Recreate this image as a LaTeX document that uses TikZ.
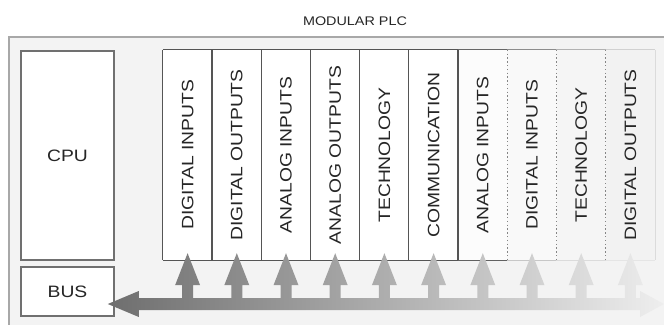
\documentclass[tikz,border=0pt]{standalone}
\usepackage{fontspec}
\setmainfont{Liberation Sans}
\usepackage{graphicx}
\usetikzlibrary{calc}
\definecolor{framebg}{HTML}{F3F3F3}
\definecolor{frameline}{HTML}{A8A8A8}
\definecolor{boxline}{HTML}{707070}
\definecolor{modline}{HTML}{555555}
\definecolor{txt}{HTML}{262626}
\definecolor{arrL}{HTML}{6E6E6E}
\definecolor{arrR}{HTML}{EEEEEE}
\tikzset{
  sbox/.style={draw=boxline, line width=1.6pt, fill=white, inner sep=0pt, text=txt,
    font=\fontsize{16.5}{18}\selectfont},
  modfill/.style={draw=none, inner sep=0pt, minimum width=49.2pt, minimum height=210pt},
  modlabel/.style={rotate=90, text=txt, inner sep=0pt, font=\fontsize{16.5}{18}\selectfont},
  sepline/.style={draw=modline, line width=1.2pt},
  dotline/.style={draw=black!48, line width=1.3pt, dash pattern=on 1.4pt off 2.4pt}
}
\begin{document}
\begin{tikzpicture}[x=1pt,y=-1pt]
\useasboundingbox[fill=white] (0,0) rectangle (664,324);
% title
\node[text=txt, inner sep=0pt, font=\fontsize{12.5}{14}\selectfont] (title) at (355,21) {\scalebox{1.15}[1]{MODULAR PLC}};
% frame
\fill[framebg] (9,37) rectangle (680,340);
\draw[frameline, line width=1.2pt] (9,340) -- (9,37) -- (680,37);
% CPU and BUS
\node[sbox, minimum width=93pt, minimum height=209pt] (cpu) at (67.5,155.5) {\scalebox{1.17}[1]{CPU}};
\node[sbox, minimum width=93pt, minimum height=49pt] (bus) at (67.5,291.5) {\scalebox{1.17}[1]{BUS}};
% modules
\foreach \i/\fc/\tc/\bc/\lab in {
  1/white/modline/modline/DIGITAL INPUTS,
  2/white/modline/modline/DIGITAL OUTPUTS,
  3/white/modline/modline/ANALOG INPUTS,
  4/white/modline/modline/ANALOG OUTPUTS,
  5/white/modline/modline/TECHNOLOGY,
  6/white/modline/modline/COMMUNICATION,
  7/black!1/black!60/black!62/ANALOG INPUTS,
  8/black!2.5/black!45/black!22/DIGITAL INPUTS,
  9/black!4/black!30/black!14/TECHNOLOGY,
  10/black!5/black!18/black!10/DIGITAL OUTPUTS} {
  \pgfmathsetmacro{\cx}{163+49.2*(\i-0.5)}
  \node[modfill, fill=\fc] (m\i) at (\cx,155) {};
  \draw[draw=\tc, line width=1.2pt] (m\i.north west) -- (m\i.north east);
  \draw[draw=\bc, line width=1.2pt] (m\i.south west) -- (m\i.south east);
  \node[modlabel] (l\i) at (m\i.center) {\scalebox{1.17}[1]{\lab}};
}
% separators
\foreach \i in {1,...,7} { \draw[sepline] (m\i.north west) -- (m\i.south west); }
\foreach \i in {8,9,10} { \draw[dotline] (m\i.north west) -- (m\i.south west); }
\draw[draw=black!14, line width=1.2pt] (m10.north east) -- (m10.south east);
% bus arrow with branches to every module
\coordinate (busend) at (664,304);
\path[left color=arrL, right color=arrR]
  ($(bus.east)+(-7,12.5)$) -- ++(31,-13) -- ++(0,7) -- ($(busend)+(-24,-6)$) -- ++(0,-7) -- (busend)
  -- ++(-24,13) -- ++(0,-7) -- ($(bus.east)+(24,18.5)$) -- ++(0,7) -- cycle
  \foreach \i in {1,...,10} {
    ($(m\i.south)+(-5.5,40)$) -- ++(0,-15) -- ++(-7,0) -- ($(m\i.south)+(0,-7)$)
    -- ($(m\i.south)+(12.5,25)$) -- ++(-7,0) -- ++(0,15) -- cycle
  };
\end{tikzpicture}
\end{document}
